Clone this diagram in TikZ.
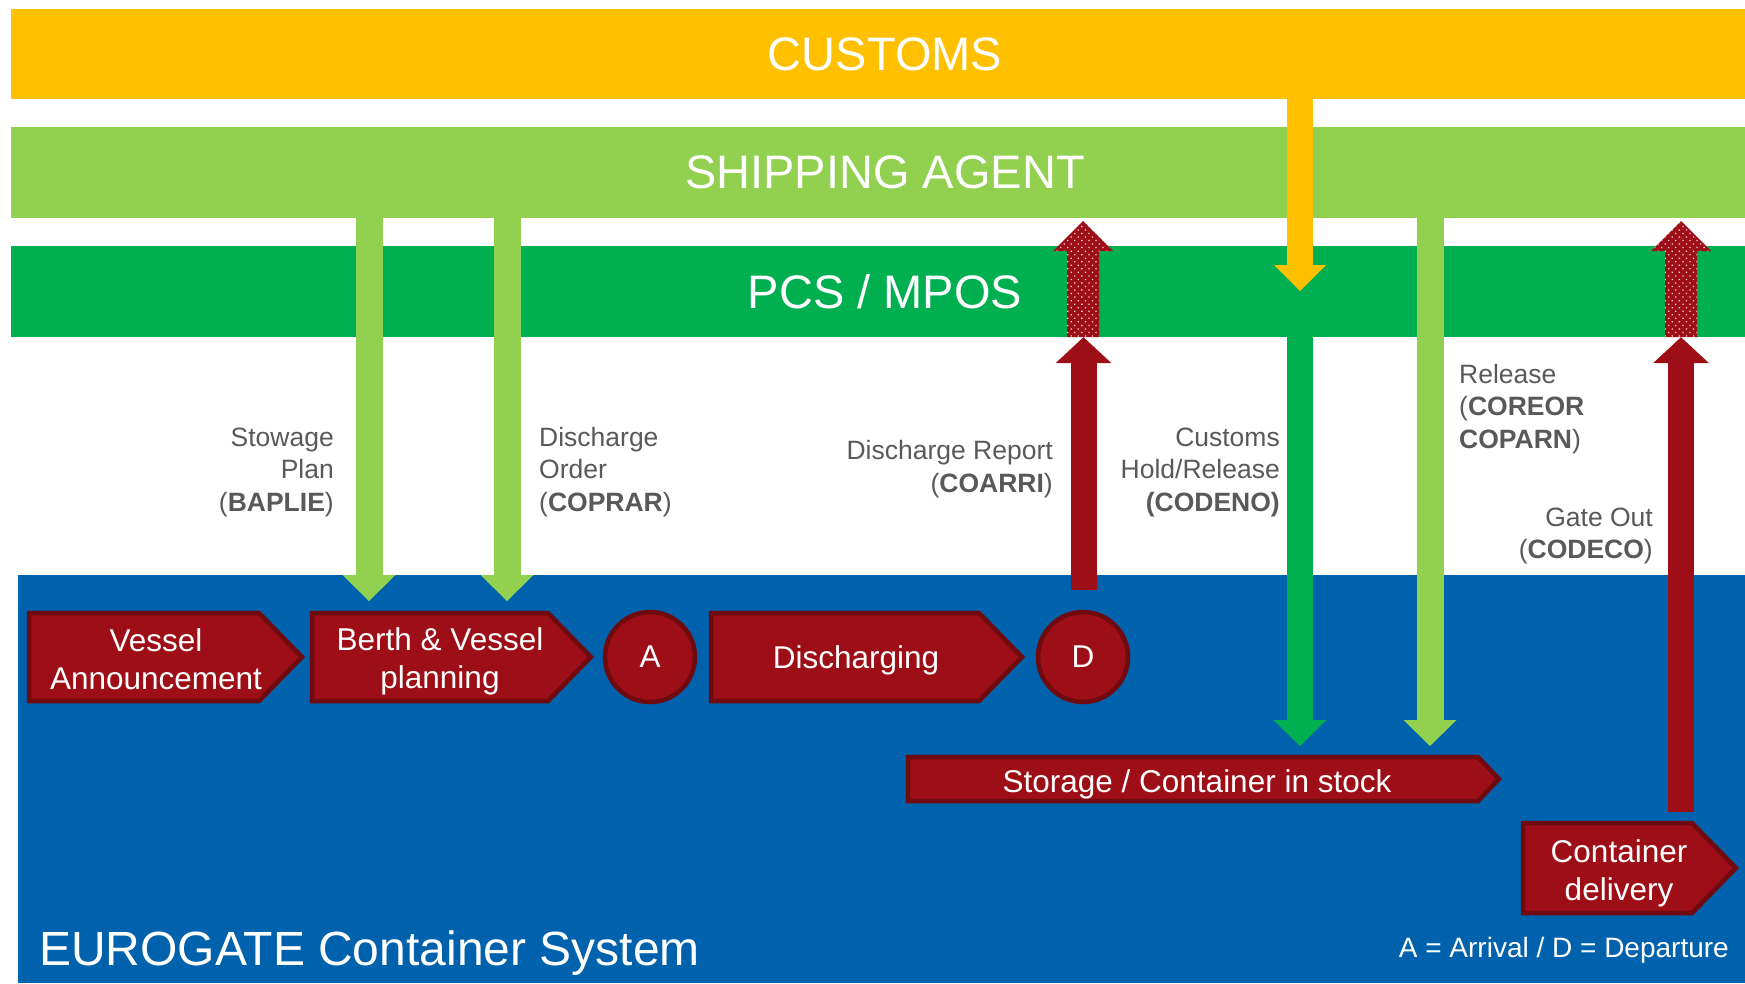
\documentclass[tikz,border=0pt]{standalone}
\usepackage{fontspec}
\setmainfont{Liberation Sans}
\usetikzlibrary{arrows.meta,patterns.meta}
\definecolor{customs}{HTML}{FFC000}
\definecolor{agent}{HTML}{92D050}
\definecolor{pcs}{HTML}{00B050}
\definecolor{ecsblue}{HTML}{0062AC}
\definecolor{dred}{HTML}{9D0E17}
\definecolor{dredline}{HTML}{6F0A0F}
\definecolor{lblgrey}{HTML}{595959}
\newcommand\procpoly[4]{% left, flat end, top, bottom
  \draw[procshape] (#1+2,#3+2) -- (#2,#3+2) -- ({#2+(#4-#3)/2-3},{(#3+#4)/2}) -- (#2,#4-2) -- (#1+2,#4-2) -- cycle;}
\begin{document}
\begin{tikzpicture}[x=1pt,y=-1pt,
  bandbox/.style={minimum width=1748pt, inner sep=0pt, text=white, font=\fontsize{47}{56}\selectfont},
  procshape/.style={fill=dred, draw=dredline, line width=4.5pt, line join=miter},
  ptext/.style={text=white, align=center, font=\fontsize{31.5}{38}\selectfont, inner sep=0pt},
  pcircle/.style={circle, fill=dred, draw=dredline, line width=4.5pt, minimum size=90pt, inner sep=0pt, text=white, font=\fontsize{31.5}{38}\selectfont},
  lbl/.style={text=lblgrey, font=\fontsize{26.5}{32.5}\selectfont, inner sep=0pt},
  agentarrow/.style={draw=agent, line width=27pt, -{Triangle[width=53pt,length=26pt,line width=0pt]}},
  pcsarrow/.style={draw=pcs, line width=26pt, -{Triangle[width=53pt,length=26pt,line width=0pt]}},
  customsarrow/.style={draw=customs, line width=26pt, -{Triangle[width=52pt,length=26pt,line width=0pt]}},
  redarrow/.style={draw=dred, line width=26pt, -{Triangle[width=56pt,length=26pt,line width=0pt]}},
  dotarrow/.style={preaction={fill=dred}, pattern={Dots[distance=5pt,radius=0.9pt,angle=45]}, pattern color=white!85!dred},
]
\useasboundingbox (0,0) rectangle (1745,983);
\fill[white] (0,0) rectangle (1745,983);

% bands
\node[bandbox, fill=customs, minimum height=90pt] (customs) at (885,54) {CUSTOMS};
\node[bandbox, fill=agent, minimum height=91pt] (agent) at (885,172.5) {SHIPPING AGENT};
\node[bandbox, fill=pcs, minimum height=91pt] (pcs) at (885,291.5) {PCS / MPOS};
\node[fill=ecsblue, minimum width=1727pt, minimum height=408pt, inner sep=0pt, anchor=north west] (ecs) at (18,575) {};

% labels
\node[lbl, anchor=east, align=right] (lstow) at (334,472) {Stowage\\Plan\\(\textbf{BAPLIE})};
\node[lbl, anchor=west, align=left] (lord) at (539,472) {Discharge\\Order\\(\textbf{COPRAR})};
\node[lbl, anchor=east, align=right] (lrep) at (1053,469) {Discharge Report\\(\textbf{COARRI})};
\node[lbl, anchor=east, align=right] (lcus) at (1280,472) {Customs\ \\Hold/Release\\\textbf{(CODENO)}};
\node[lbl, anchor=west, align=left] (lrel) at (1459,409) {Release\\(\textbf{COREOR}\\\textbf{COPARN})};
\node[lbl, anchor=east, align=right] (lgate) at (1653,536) {Gate Out\\(\textbf{CODECO})};

% connector end points
\coordinate (stowend) at (369,601);
\coordinate (ordend) at (507,601);
\coordinate (cusend) at (1300,291);
\coordinate (holdend) at (1300,746);
\coordinate (relend) at (1430,746);
\coordinate (repstart) at (1083.5,590);
\coordinate (gatestart) at (1681,812);

\draw[agentarrow] (agent.south -| stowend) -- (stowend);
\draw[agentarrow] (agent.south -| ordend) -- (ordend);
\draw[customsarrow] (customs.south -| cusend) -- (cusend);
\draw[pcsarrow] (pcs.south -| holdend) -- (holdend);
\draw[agentarrow] (agent.south -| relend) -- (relend);
\draw[redarrow] (repstart) -- (pcs.south -| repstart);
\draw[redarrow] (gatestart) -- (pcs.south -| gatestart);

% dotted arrows into PCS
\path[dotarrow] (1067,337) -- (1067,251) -- (1053,251) -- (1083,221) -- (1113,251) -- (1099,251) -- (1099,337) -- cycle;
\path[dotarrow] (1665,337) -- (1665,251) -- (1651,251) -- (1681,221) -- (1711,251) -- (1697,251) -- (1697,337) -- cycle;

% processes
\procpoly{27}{259}{611}{703}
\node[ptext] (va) at (156,659) {Vessel\\Announcement};
\procpoly{310}{548}{611}{703}
\node[ptext] (bv) at (440,661) {Berth \& Vessel\\planning};
\node[pcircle] (arr) at (650,657) {\raisebox{-2pt}{A}};
\procpoly{709}{979}{611}{703}
\node[ptext] (dis) at (856,660) {Discharging};
\node[pcircle] (dep) at (1083,657) {\raisebox{-2pt}{D}};
\procpoly{906}{1478}{755}{803}
\node[ptext] (sto) at (1197,784) {Storage / Container in stock};
\procpoly{1521}{1692}{821}{915}
\node[ptext] (cd) at (1619,873) {Container\\delivery};

% footer texts
\node[text=white, anchor=base west, inner sep=0pt, font=\fontsize{48}{57}\selectfont] (ecslabel) at (39,965) {EUROGATE Container System};
\node[text=white, anchor=base east, inner sep=0pt, font=\fontsize{28}{34}\selectfont] (legend) at (1729,957) {A = Arrival / D = Departure};
\end{tikzpicture}
\end{document}
